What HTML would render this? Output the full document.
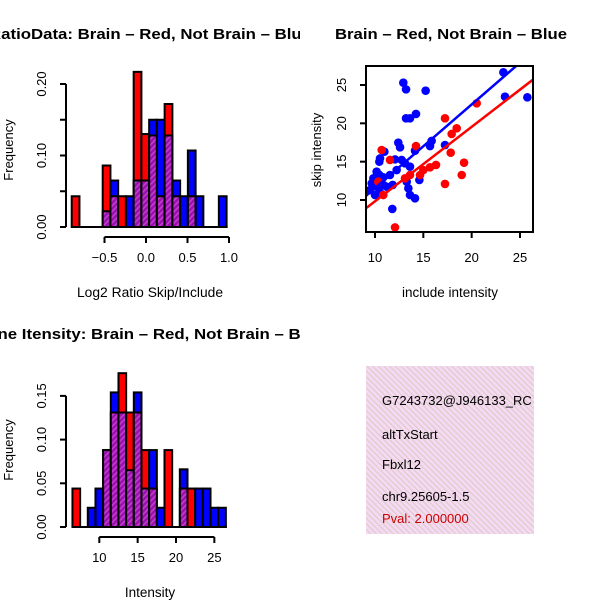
<!DOCTYPE html>
<html><head><meta charset="utf-8">
<style>
html,body{margin:0;padding:0;background:#fff;}
svg{display:block;font-family:"Liberation Sans",sans-serif;}
</style></head>
<body>
<svg id="chart" width="600" height="600" viewBox="0 0 600 600" xmlns="http://www.w3.org/2000/svg">
<defs>
<pattern id="hatch" patternUnits="userSpaceOnUse" width="4" height="4" patternTransform="rotate(45)">
<rect width="4" height="4" fill="#9a10b0"/><rect width="1.5" height="4" fill="#c040c8"/>
</pattern>
<pattern id="pinkhatch" patternUnits="userSpaceOnUse" width="4" height="4" patternTransform="rotate(-45)">
<rect width="4" height="4" fill="#f8d8f4"/><rect width="1.2" height="4" fill="#d8d0c8"/>
</pattern>
<clipPath id="clipL"><rect x="0" y="0" width="300" height="600"/></clipPath>
<clipPath id="clipR"><rect x="300" y="0" width="300" height="600"/></clipPath>
<clipPath id="clipBox"><rect x="366" y="66" width="167" height="166"/></clipPath>
<clipPath id="clipPanel"><rect x="366" y="366" width="168" height="168"/></clipPath>
</defs>
<g id="root"></g>
</svg>
<script>
// ---- Ratio histogram data (frequency per bin) ----
const ratioBinStart = -0.895;
const ratioBinWidth = 0.0933;
const ratioRed  = [0.043,0,0,0,0.086,0.043,0.043,0,0.217,0.13,0.128,0.043,0.172,0.043,0,0.043,0,0,0,0];
const ratioBlue = [0,0,0,0,0.022,0.065,0,0.043,0.065,0.065,0.15,0.15,0.128,0.065,0.043,0.107,0.043,0,0,0.043];
const ratioYTicks = [0,0.05,0.10,0.15,0.20];
const ratioYLabels = ["0.00","","0.10","","0.20"];
const ratioXTicks = [-0.5,0,0.5,1.0];
const ratioXLabels = ["\u22120.5","0.0","0.5","1.0"];

// ---- Intensity histogram data ----
const intBinStart = 6.5;
const intBinWidth = 1.0;
const intRed  = [0.044,0,0,0,0.088,0.131,0.176,0.131,0.131,0.088,0.044,0,0.088,0,0.044,0.044,0,0,0,0];
const intBlue = [0,0,0.022,0.044,0.088,0.154,0.131,0.065,0.154,0.044,0.088,0.022,0,0,0.066,0,0.044,0.044,0.022,0.022];
const intYTicks = [0,0.05,0.10,0.15];
const intYLabels = ["0.00","0.05","0.10","0.15"];
const intXTicks = [10,15,20,25];
const intXLabels = ["10","15","20","25"];

// ---- Scatter data ----
const blueX = [12.93,13.21,15.24,23.28,23.45,25.76,13.21,13.62,14.24,12.41,12.59,10.97,10.52,10.45,15.86,15.69,17.24,14.14,12.07,12.76,13.10,13.62,10.17,10.45,10.86,11.55,12.24,9.83,9.66,10.17,10.86,11.83,13.28,13.45,13.62,14.14,14.59,11.79,9.48,10.00,10.52,11.21];
const blueY = [25.30,24.43,24.26,26.65,23.48,23.39,20.65,20.65,21.22,17.48,16.87,16.30,15.43,15.00,17.70,17.04,17.17,16.43,15.30,15.22,14.78,14.35,13.70,13.26,12.96,13.26,13.91,12.83,12.17,11.74,11.96,11.96,12.39,11.52,10.65,10.22,12.61,8.83,11.30,10.65,10.96,11.74];
const redX = [12.07,17.24,18.97,19.21,17.83,17.93,18.45,17.24,20.52,14.24,10.69,11.55,10.34,10.86,13.62,15.00,15.69,16.31,14.66,13.10];
const redY = [6.43,12.09,13.26,14.87,16.17,18.61,19.35,20.65,22.61,17.04,16.52,15.22,12.39,10.65,13.26,13.91,14.26,14.57,13.26,12.83];
const blueFit = [0.66,1.09];   // intercept, slope
const redFit = [0.12,0.971];
const scXTicks = [10,15,20,25];
const scYTicks = [10,15,20,25];

const NS="http://www.w3.org/2000/svg";
const root=document.getElementById('root');
function mk(tag,attrs,parent){const e=document.createElementNS(NS,tag);for(const k in attrs)e.setAttribute(k,attrs[k]);(parent||root).appendChild(e);return e;}
function txt(s,attrs,parent){const e=mk('text',attrs,parent);e.textContent=s;return e;}

function hist(g,red,blue,start,width,xs,ys,base,xTicks,xLabels,yTicks,yLabels,axY,nm){
  for(let i=0;i<red.length;i++){
    const x0=xs(start+i*width),x1=xs(start+(i+1)*width);
    const r=red[i],b=blue[i],mx=Math.max(r,b),mn=Math.min(r,b);
    if(mx<=0)continue;
    const col=r>=b?'#ff0000':'#0000ff';
    const bar=mk('rect',{x:x0,y:ys(mx),width:x1-x0,height:base-ys(mx),fill:col,stroke:'#000','stroke-width':2},g);
    
    
    if(mn>0){
      const ov=mk('rect',{x:x0,y:ys(mn),width:x1-x0,height:base-ys(mn),fill:'url(#hatch)',stroke:'#000','stroke-width':2},g);
      
      
    }
  }
  mk('line',{x1:xs(start),x2:xs(start+red.length*width)+1,y1:base,y2:base,stroke:'#000','stroke-width':2},g);
  const ya=mk('g',{},g);
  
  
  mk('line',{x1:66,x2:66,y1:ys(yTicks[0]),y2:ys(yTicks[yTicks.length-1]),stroke:'#000','stroke-width':2},ya);
  yTicks.forEach((t,i)=>{
    mk('line',{x1:60,x2:66,y1:ys(t),y2:ys(t),stroke:'#000','stroke-width':2},ya);
    if(yLabels[i])txt(yLabels[i],{x:46,y:ys(t),'font-size':13,'text-anchor':'middle',transform:`rotate(-90 46 ${ys(t)})`},ya);
  });
  const xa=mk('g',{},g);
  
  
  mk('line',{x1:xs(xTicks[0]),x2:xs(xTicks[xTicks.length-1]),y1:axY,y2:axY,stroke:'#000','stroke-width':2},xa);
  xTicks.forEach((t,i)=>{
    mk('line',{x1:xs(t),x2:xs(t),y1:axY,y2:axY+6,stroke:'#000','stroke-width':2},xa);
    txt(xLabels[i],{x:xs(t),y:axY+25,'font-size':13,'text-anchor':'middle'},xa);
  });
}

// Panel 1
const p1=mk('g',{'clip-path':'url(#clipL)'});


const xs1=v=>146+v*83, ys1=v=>227-v*715;
hist(p1,ratioRed,ratioBlue,ratioBinStart,ratioBinWidth,xs1,ys1,227,ratioXTicks,ratioXLabels,ratioYTicks,ratioYLabels,237,'ratio');
const t1=txt('RatioData: Brain \u2013 Red, Not Brain \u2013 Blue',{x:-11,y:39,'font-size':15,'font-weight':'bold',textLength:322,lengthAdjust:'spacingAndGlyphs'},p1);

const l1=txt('Frequency',{x:13,y:150,'font-size':13,'text-anchor':'middle',transform:'rotate(-90 13 150)'},p1);

const l2=txt('Log2 Ratio Skip/Include',{x:77,y:297,'font-size':13.5,textLength:146,lengthAdjust:'spacingAndGlyphs'},p1);


// Panel 3
const p3=mk('g',{'clip-path':'url(#clipL)'});


const xs3=v=>99.3+(v-10)*7.67, ys3=v=>527-v*874;
hist(p3,intRed,intBlue,intBinStart,intBinWidth,xs3,ys3,527,intXTicks,intXLabels,intYTicks,intYLabels,537,'intensity');
const t3=txt('Gene Itensity: Brain \u2013 Red, Not Brain \u2013 Blue',{x:-25,y:339,'font-size':15,'font-weight':'bold',textLength:350,lengthAdjust:'spacingAndGlyphs'},p3);

const l3=txt('Frequency',{x:13,y:450,'font-size':13,'text-anchor':'middle',transform:'rotate(-90 13 450)'},p3);

const l4=txt('Intensity',{x:150,y:597,'font-size':13.5,'text-anchor':'middle'},p3);


// Panel 2 scatter
const p2=mk('g',{'clip-path':'url(#clipR)'});


const sx=v=>375+(v-10)*9.667, sy=v=>200-(v-10)*7.667;
const pts=mk('g',{'clip-path':'url(#clipBox)'},p2);


for(let i=0;i<blueX.length;i++){
  const c=mk('circle',{cx:sx(blueX[i]),cy:sy(blueY[i]),r:4.3,fill:'#0000ff'},pts);
  
  
}
for(let i=0;i<redX.length;i++){
  const c=mk('circle',{cx:sx(redX[i]),cy:sy(redY[i]),r:4.3,fill:'#ff0000'},pts);
  
  
}
[[blueFit,'#0000ff','blue-fit-line'],[redFit,'#ff0000','red-fit-line']].forEach(([f,c,n])=>{
  const xa=8,xb=28;
  const ln=mk('line',{x1:sx(xa),y1:sy(f[0]+f[1]*xa),x2:sx(xb),y2:sy(f[0]+f[1]*xb),stroke:c,'stroke-width':2.5},pts);
  
  
});
const box=mk('rect',{x:366,y:66,width:167,height:166,fill:'none',stroke:'#000','stroke-width':2},p2);

scXTicks.forEach(t=>{
  mk('line',{x1:sx(t),x2:sx(t),y1:232,y2:238,stroke:'#000','stroke-width':2},p2);
  const e=txt(String(t),{x:sx(t),y:262,'font-size':13,'text-anchor':'middle'},p2);
  
});
scYTicks.forEach(t=>{
  mk('line',{x1:360,x2:366,y1:sy(t),y2:sy(t),stroke:'#000','stroke-width':2},p2);
  const e=txt(String(t),{x:346,y:sy(t),'font-size':13,'text-anchor':'middle',transform:`rotate(-90 346 ${sy(t)})`},p2);
  
});
const t2=txt('Brain \u2013 Red, Not Brain \u2013 Blue',{x:335,y:39,'font-size':15,'font-weight':'bold',textLength:232,lengthAdjust:'spacingAndGlyphs'},p2);

const l5=txt('skip intensity',{x:321,y:150,'font-size':13,'text-anchor':'middle',transform:'rotate(-90 321 150)'},p2);

const l6=txt('include intensity',{x:450,y:297,'font-size':13.5,'text-anchor':'middle'},p2);


// Panel 4 info
const p4=mk('g',{'clip-path':'url(#clipPanel)'});


mk('rect',{x:366,y:366,width:168,height:168,fill:'url(#pinkhatch)'},p4);
const lines=[['G7243732@J946133_RC','#000',405,'event-id'],['altTxStart','#000',439,'event-type'],['Fbxl12','#000',469,'gene-name'],['chr9.25605-1.5','#000',501,'location'],['Pval: 2.000000','#cc0000',523,'p-value']];
lines.forEach(([s,c,y,n])=>{
  const e=txt(s,{x:382,y:y,'font-size':13,fill:c},p4);
  
  
});
</script>
</body></html>
